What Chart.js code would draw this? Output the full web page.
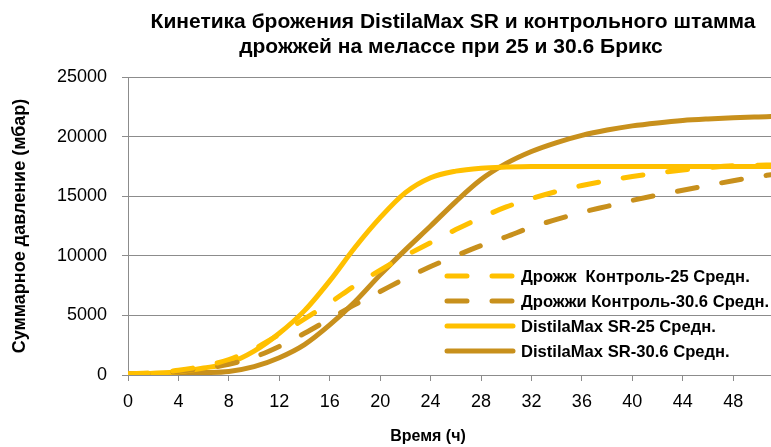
<!DOCTYPE html>
<html>
<head>
<meta charset="utf-8">
<script src="https://cdn.jsdelivr.net/npm/chart.js@4.4.1/dist/chart.umd.min.js"></script>
<style>
  html, body { margin: 0; padding: 0; background: #fff; }
  #wrap { width: 771px; height: 447px; position: relative; }
</style>
</head>
<body>
<div id="wrap"><canvas id="chart" width="771" height="447"></canvas></div>
<script>
// ============================================================
// DATA
// ============================================================
const hours = [0, 2, 4, 6, 8, 10, 12, 14, 16, 18, 20, 22, 24, 26, 28, 30, 32, 34, 36, 38, 40, 42, 44, 46, 48, 50, 51];

const control25  = [100, 200, 400, 750, 1300, 2200, 3400, 4700, 6050, 7500, 8800, 10000, 11100, 12200, 13200, 14100, 14800, 15400, 15900, 16300, 16650, 16950, 17200, 17400, 17550, 17600, 17620];
const control306 = [80, 150, 300, 550, 900, 1500, 2400, 3500, 4700, 5900, 7000, 8100, 9100, 10000, 10850, 11600, 12400, 13050, 13650, 14150, 14650, 15100, 15500, 15900, 16300, 16650, 16800];
const sr25       = [80, 150, 280, 580, 1000, 2000, 3500, 5400, 7900, 10700, 13200, 15300, 16550, 17100, 17350, 17450, 17500, 17500, 17500, 17500, 17500, 17500, 17500, 17500, 17500, 17500, 17500];
const sr306      = [80, 100, 150, 200, 300, 700, 1450, 2550, 4200, 6150, 8400, 10500, 12500, 14550, 16400, 17750, 18750, 19500, 20100, 20550, 20900, 21150, 21350, 21480, 21580, 21650, 21680];

const seriesLabels = [
  'Дрожж  Контроль-25 Средн.',
  'Дрожжи Контроль-30.6 Средн.',
  'DistilaMax SR-25 Средн.',
  'DistilaMax SR-30.6 Средн.'
];
const titleLines = ['Кинетика брожения DistilaMax SR и контрольного штамма', 'дрожжей на мелассе при 25 и 30.6 Брикс'];
const xTitle = 'Время (ч)';
const yTitle = 'Суммарное давление (мбар)';

const YELLOW = '#FFC000';
const GOLD = '#C8901C';
const GRID = '#8C8C8C';
const FONT = "'Liberation Sans', Arial, sans-serif";

const pts = arr => hours.map((h, i) => ({ x: h, y: arr[i] }));

// ============================================================
// TITLE, AXIS TITLES AND IN-PLOT LEGEND (drawn by hand)
// ============================================================
const decorations = {
  id: 'decorations',
  afterDraw(chart) {
    const ctx = chart.ctx;
    const area = chart.chartArea;
    ctx.save();
    ctx.fillStyle = '#000';
    ctx.textBaseline = 'middle';
    ctx.textAlign = 'center';
    ctx.font = `bold 21px ${FONT}`;
    ctx.fillText(titleLines[0], 453, 22);
    ctx.fillText(titleLines[1], 451, 47);

    ctx.font = `bold 16px ${FONT}`;
    ctx.fillText(xTitle, 428, 437);
    ctx.font = `bold 18px ${FONT}`;
    ctx.translate(20, (area.top + area.bottom) / 2);
    ctx.rotate(-Math.PI / 2);
    ctx.fillText(yTitle, 0, 0);
    ctx.restore();

    // legend
    ctx.save();
    const rows = [276, 301, 326, 351];
    chart.data.datasets.forEach((ds, i) => {
      ctx.beginPath();
      ctx.strokeStyle = ds.borderColor;
      ctx.lineWidth = ds.borderWidth;
      ctx.lineCap = 'round';
      ctx.setLineDash(ds.borderDash || []);
      ctx.moveTo(447, rows[i]);
      ctx.lineTo(513, rows[i]);
      ctx.stroke();
      ctx.setLineDash([]);
      ctx.fillStyle = '#000';
      ctx.font = `bold 16.6px ${FONT}`;
      ctx.textAlign = 'left';
      ctx.textBaseline = 'middle';
      ctx.fillText(seriesLabels[i], 521, rows[i] + 1);
    });
    ctx.restore();
  }
};

const lineDs = (label, data, color, dashed) => ({
  label,
  data: pts(data),
  borderColor: color,
  backgroundColor: color,
  borderWidth: 5,
  borderDash: dashed ? [20, 25] : [],
  borderCapStyle: 'round',
  borderJoinStyle: 'round',
  cubicInterpolationMode: 'monotone',
  pointRadius: 0,
  fill: false
});

new Chart(document.getElementById('chart'), {
  type: 'line',
  data: {
    datasets: [
      lineDs(seriesLabels[0], control25, YELLOW, true),
      lineDs(seriesLabels[1], control306, GOLD, true),
      lineDs(seriesLabels[2], sr25, YELLOW, false),
      lineDs(seriesLabels[3], sr306, GOLD, false)
    ]
  },
  options: {
    responsive: false,
    animation: false,
    layout: { padding: { top: 77, right: 0, bottom: 34, left: 0 } },
    plugins: { legend: { display: false }, title: { display: false }, tooltip: { enabled: false } },
    scales: {
      x: {
        type: 'linear',
        min: 0,
        max: 51,
        afterBuildTicks: s => { s.ticks = s.ticks.filter(t => t.value % 4 === 0); },
        afterFit: s => { s.height = 38; },
        ticks: { stepSize: 4, color: '#000', font: { family: FONT, size: 18 }, padding: 10, maxRotation: 0,
                 callback: v => String(v) },
        grid: { drawOnChartArea: false, drawTicks: true, tickLength: 6, color: GRID },
        border: { color: GRID, width: 1 }
      },
      y: {
        min: 0,
        max: 25000,
        afterFit: s => { s.width = 128; },
        ticks: { stepSize: 5000, color: '#000', font: { family: FONT, size: 18 }, padding: 15,
                 callback: v => String(v) },
        grid: { color: GRID, lineWidth: 1, tickLength: 6 },
        border: { color: GRID, width: 1 }
      }
    }
  },
  plugins: [decorations]
});
</script>
</body>
</html>
